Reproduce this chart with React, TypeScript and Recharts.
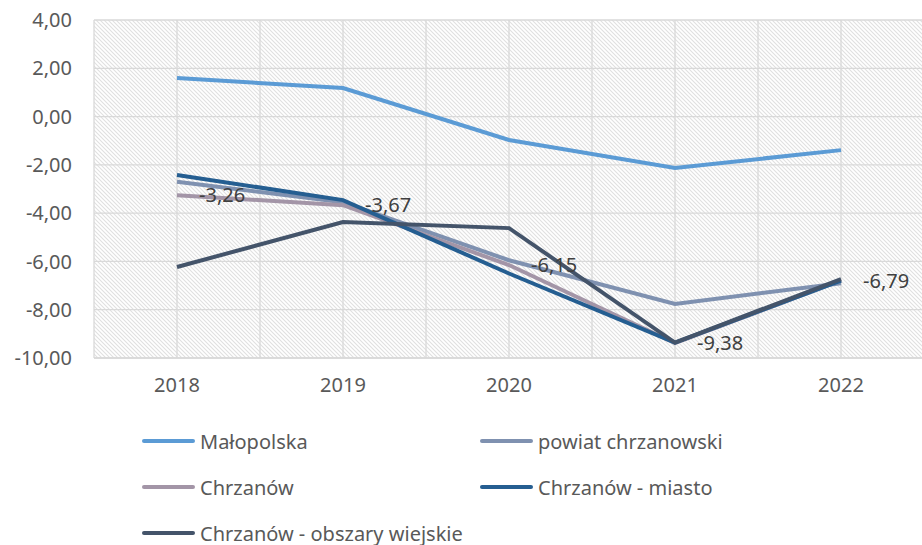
import { LineChart, Line, XAxis, YAxis, CartesianGrid, LabelList } from 'recharts';

const years = ['2018', '2019', '2020', '2021', '2022'];

const malopolska = [1.6, 1.18, -0.97, -2.13, -1.39];
const powiat = [-2.7, -3.55, -5.95, -7.76, -6.9];
const chrzanow = [-3.26, -3.67, -6.15, -9.38, -6.79];
const miasto = [-2.42, -3.46, -6.5, -9.36, -6.8];
const wiejskie = [-6.23, -4.37, -4.62, -9.36, -6.73];

const yTicks = [4, 2, 0, -2, -4, -6, -8, -10];

const series = [
  { key: 'malopolska', name: 'Małopolska', color: '#5b9bd5', values: malopolska },
  { key: 'powiat', name: 'powiat chrzanowski', color: '#7f91b0', values: powiat },
  { key: 'chrzanow', name: 'Chrzanów', color: '#a395a7', values: chrzanow },
  { key: 'miasto', name: 'Chrzanów - miasto', color: '#255e91', values: miasto },
  { key: 'wiejskie', name: 'Chrzanów - obszary wiejskie', color: '#44546a', values: wiejskie },
];

const data = years.map((year, i) => {
  const row: Record<string, string | number> = { year };
  series.forEach((s) => { row[s.key] = s.values[i]; });
  return row;
});

const FONT = '"Noto Sans", sans-serif';
const FS = 20;
const fmt = (v: number) => v.toFixed(2).replace('.', ',');

// legend drawn as plain html under the plot (recharts Legend eats plot height)
function LegendBox() {
  return (
    <div style={{ position: 'absolute', left: 0, top: 429, width: 922, height: 116, fontFamily: FONT, fontSize: FS, color: '#595959' }}>
      {series.map((s, i) => {
        const col = i % 2;
        const row = Math.floor(i / 2);
        return (
          <div
            key={s.key}
            style={{
              position: 'absolute',
              left: col === 0 ? 142 : 480,
              top: row * 46,
              display: 'flex',
              alignItems: 'center',
              height: 24,
              whiteSpace: 'nowrap',
            }}
          >
            <span style={{ display: 'inline-block', width: 53, height: 4, borderRadius: 2, background: s.color, marginRight: 5 }} />
            <span>{s.name}</span>
          </div>
        );
      })}
    </div>
  );
}

export default function App() {
  return (
    <div style={{ position: 'absolute', left: 0, top: 0, width: 922, height: 545, overflow: 'hidden', background: '#fff' }}>
      <svg width={922} height={545} style={{ position: 'absolute', left: 0, top: 0 }}>
        <defs>
          <pattern id="hatch" width="4" height="4" patternUnits="userSpaceOnUse">
            <path d="M0,0 L4,4 M-1,3 L1,5 M3,-1 L5,1" stroke="#e0e0e0" strokeWidth={1.1} />
          </pattern>
        </defs>
        <rect x={94} y={20} width={830} height={338} fill="url(#hatch)" />
      </svg>
      <div style={{ position: 'absolute', left: 0, top: 0 }}>
        <LineChart
          width={930}
          height={420}
          data={data}
          margin={{ top: 20, right: 6, bottom: 0, left: 0 }}
        >
          <CartesianGrid
            stroke="#d9d9d9"
            strokeWidth={1.3}
            verticalCoordinatesGenerator={({ offset }: any) =>
              Array.from({ length: 11 }, (_, i) => offset.left + (offset.width * i) / 10)
            }
          />
          <XAxis
            dataKey="year"
            height={62}
            padding={{ left: 83, right: 83 }}
            axisLine={{ stroke: '#d9d9d9', strokeWidth: 1.3 }}
            tickLine={false}
            tickSize={0}
            tickMargin={20}
            tick={{ fill: '#595959', fontSize: FS, fontFamily: FONT }}
          />
          <YAxis
            width={94}
            domain={[-10, 4]}
            ticks={yTicks}
            interval={0}
            axisLine={false}
            tickLine={false}
            tickSize={0}
            tickMargin={22}
            tickFormatter={fmt}
            tick={{ fill: '#595959', fontSize: FS, fontFamily: FONT }}
          />
          {series.map((s) => (
            <Line
              key={s.key}
              type="linear"
              dataKey={s.key}
              name={s.name}
              stroke={s.color}
              strokeWidth={4}
              dot={false}
              activeDot={false}
              isAnimationActive={false}
            >
              {s.key === 'chrzanow' && (
                <LabelList
                  dataKey="chrzanow"
                  position="right"
                  offset={22}
                  formatter={(v: any) => fmt(Number(v))}
                  style={{ fill: '#404040', fontSize: FS, fontFamily: FONT }}
                />
              )}
            </Line>
          ))}
        </LineChart>
      </div>
      <LegendBox />
    </div>
  );
}
